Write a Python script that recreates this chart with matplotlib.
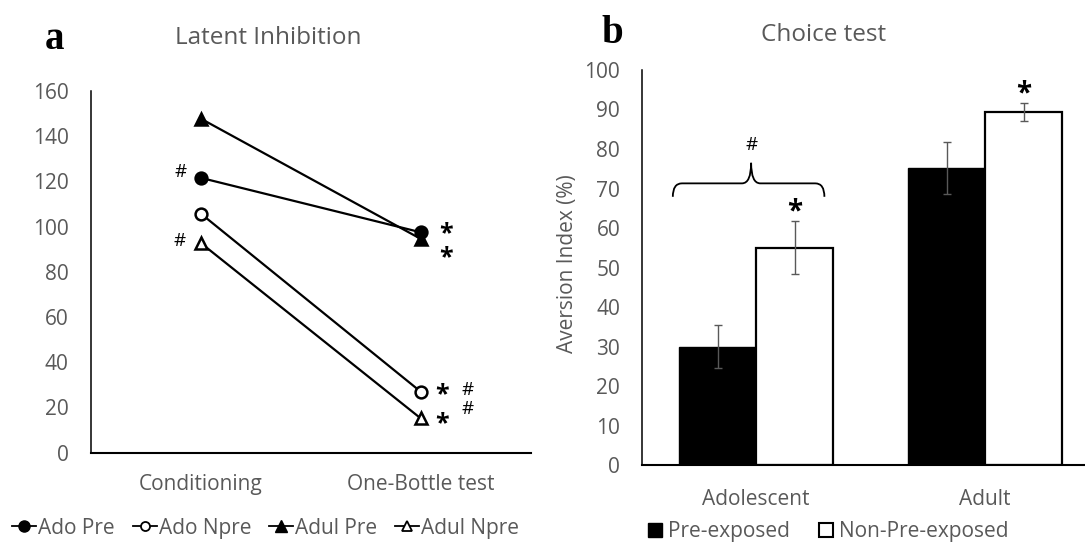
import matplotlib
matplotlib.use('Agg')
import matplotlib.pyplot as plt
from matplotlib.path import Path
from matplotlib.patches import PathPatch, Patch
from matplotlib.lines import Line2D

# ---- panel a data (latent inhibition) ----
phases = ['Conditioning', 'One-Bottle test']
ado_pre = [121.6, 97.5]
ado_npre = [105.8, 27]
adul_pre = [147.8, 94.6]
adul_npre = [92.8, 15.2]

# ---- panel b data (choice test) ----
ages = ['Adolescent', 'Adult']
pre_exposed = [30, 75.1]
pre_exposed_err = [5.5, 6.6]
non_pre_exposed = [55, 89.3]
non_pre_exposed_err = [6.7, 2.25]

GRAY = '#595959'
FS = 15
plt.rcParams['font.family'] = ['Open Sans', 'DejaVu Sans']


def style_axis(ax):
    for side in ('top', 'right'):
        ax.spines[side].set_visible(False)
    ax.spines['left'].set_linewidth(1.1)
    ax.spines['bottom'].set_linewidth(1.5)
    ax.tick_params(length=0, labelsize=FS, labelcolor=GRAY)


def star(ax, x, y, size=18):
    # asterisk glyphs sit high in the em box, so callers nudge y down a bit
    ax.text(x, y, '*', fontsize=size, weight='bold', ha='center', va='center')


def hash_mark(ax, x, y):
    ax.text(x, y, '#', fontsize=13.5, ha='center', va='center')


def plot_latent(fig):
    ax = fig.add_axes([0.0836, 0.1663, 0.4055, 0.6661])
    x = range(len(phases))
    series = [
        (ado_pre, 'o', 'black', 'Ado Pre'),
        (ado_npre, 'o', 'white', 'Ado Npre'),
        (adul_pre, '^', 'black', 'Adul Pre'),
        (adul_npre, '^', 'white', 'Adul Npre'),
    ]
    handles = []
    for vals, marker, face, label in series:
        ax.plot(x, vals, color='black', lw=1.6, marker=marker, ms=8.5,
                mfc=face, mec='black', mew=1.8, zorder=3)
        handles.append(Line2D([0], [0], color='black', lw=1.3, marker=marker,
                              ms=8 if face == 'black' else 6.5, mfc=face,
                              mec='black', mew=1.3 if face == 'white' else 1,
                              label=label))
    ax.set_xlim(-0.5, 1.5)
    ax.set_ylim(0, 160)
    ax.set_yticks(range(0, 161, 20))
    ax.set_xticks(list(x))
    ax.set_xticklabels(phases)
    style_axis(ax)
    ax.tick_params(axis='y', pad=16)
    ax.tick_params(axis='x', pad=15)

    # significance marks
    hash_mark(ax, -0.091, ado_pre[0] + 2.5)
    hash_mark(ax, -0.095, adul_npre[0] + 0.7)
    star(ax, 1.114, ado_pre[1] + 0.9 - 1.5)
    star(ax, 1.114, adul_pre[1] - 7 - 1.5)
    star(ax, 1.098, ado_npre[1] - 1.5)
    star(ax, 1.098, adul_npre[1] - 1 - 1.5)
    hash_mark(ax, 1.215, ado_npre[1] + 0.8)
    hash_mark(ax, 1.215, adul_npre[1] + 4.3)

    fig.text(0.247, 0.930, 'Latent Inhibition', fontsize=17.5, color=GRAY,
             ha='center', va='center')
    fig.text(0.050, 0.928, 'a', family='Liberation Serif', weight='bold',
             fontsize=28, ha='center', va='center')
    fig.legend(handles=handles, loc='center', bbox_to_anchor=(0.245, 0.0276),
               ncol=4, frameon=False, fontsize=FS, handlelength=1.15,
               handletextpad=0.1, columnspacing=0.86, labelcolor=GRAY,
               borderpad=0)


def brace(ax, x0, x1, xm, y, depth, tip):
    verts = [
        (x0, y - depth), (x0, y), (x0 + 0.04, y),
        (xm - 0.04, y), (xm, y), (xm, y + tip),
        (xm, y), (xm + 0.04, y),
        (x1 - 0.04, y), (x1, y), (x1, y - depth),
    ]
    codes = [Path.MOVETO, Path.CURVE3, Path.CURVE3,
             Path.LINETO, Path.CURVE3, Path.CURVE3,
             Path.CURVE3, Path.CURVE3,
             Path.LINETO, Path.CURVE3, Path.CURVE3]
    ax.add_patch(PathPatch(Path(verts, codes), fill=False, lw=1.3,
                           edgecolor='black', clip_on=False))


def plot_choice(fig):
    ax = fig.add_axes([0.5914, 0.1436, 0.4221, 0.7275])
    x = list(range(len(ages)))
    w = 0.336
    left = [i - w / 2 for i in x]
    right = [i + w / 2 for i in x]
    ax.bar(left, pre_exposed, w, color='black', edgecolor='black', lw=1,
           zorder=2)
    ax.bar(right, non_pre_exposed, w, color='white', edgecolor='black',
           lw=1.6, zorder=2)
    ax.errorbar(left, pre_exposed, yerr=pre_exposed_err, fmt='none',
                ecolor=GRAY, elinewidth=1, capsize=3, zorder=3)
    ax.errorbar(right, non_pre_exposed, yerr=non_pre_exposed_err, fmt='none',
                ecolor=GRAY, elinewidth=1, capsize=3, zorder=3)
    ax.set_xlim(-0.5, 1.5)
    ax.set_ylim(0, 100)
    ax.set_yticks(range(0, 101, 10))
    ax.set_xticks(x)
    ax.set_xticklabels(ages)
    style_axis(ax)
    ax.tick_params(axis='y', pad=15.5)
    ax.tick_params(axis='x', pad=17)
    ax.set_ylabel('Aversion Index (%)', fontsize=FS, color=GRAY)
    ax.yaxis.set_label_coords(-0.139, 0.51)

    # significance marks
    for i in x:
        top = non_pre_exposed[i] + non_pre_exposed_err[i]
        star(ax, right[i], top + 2.4, size=20)
    brace(ax, -0.364, 0.298, -0.022, 71.3, 3.4, 5.2)
    hash_mark(ax, -0.022, 81)

    fig.text(0.7594, 0.935, 'Choice test', fontsize=17.5, color=GRAY,
             ha='center', va='center')
    fig.text(0.564, 0.9374, 'b', family='Liberation Serif', weight='bold',
             fontsize=28, ha='center', va='center')
    handles = [Patch(facecolor='black', edgecolor='black', label='Pre-exposed'),
               Patch(facecolor='white', edgecolor='black', lw=1.5,
                     label='Non-Pre-exposed')]
    fig.legend(handles=handles, loc='center', bbox_to_anchor=(0.7635, 0.021),
               ncol=2, frameon=False, fontsize=FS, handlelength=0.67,
               handleheight=0.67, handletextpad=0.3, columnspacing=1.4,
               labelcolor=GRAY, borderpad=0)


def main():
    fig = plt.figure(figsize=(10.85, 5.43), dpi=100)
    plot_latent(fig)
    plot_choice(fig)
    fig.savefig('out.png', dpi=100)


if __name__ == '__main__':
    main()
